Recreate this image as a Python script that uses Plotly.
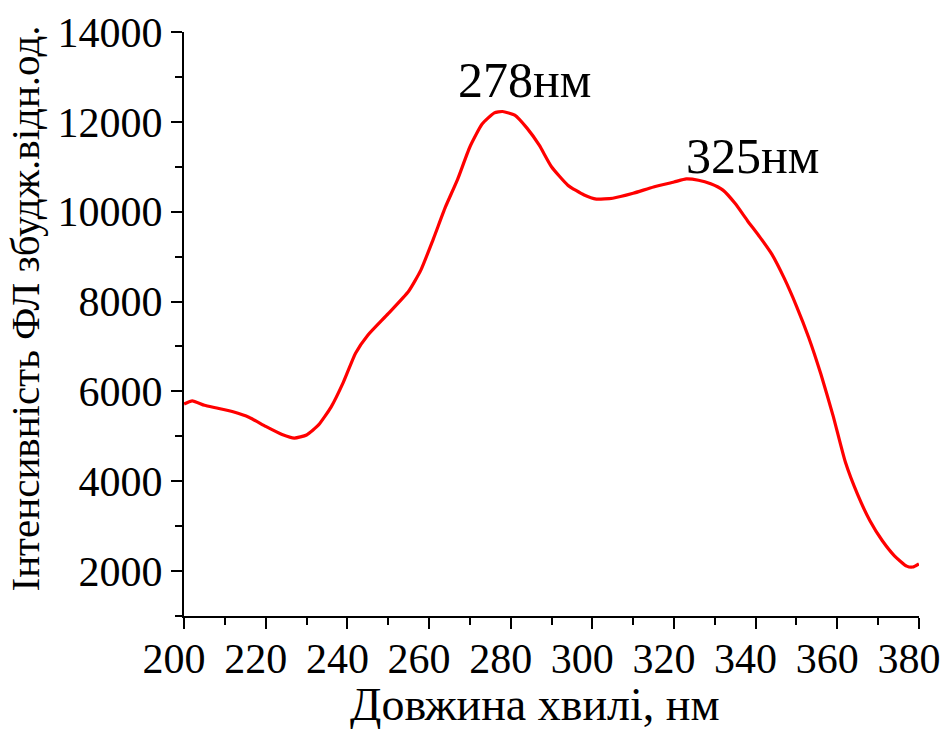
import plotly.graph_objects as go

wavelength = [200, 202, 205, 208, 212, 216, 220, 224, 227, 230, 233, 236, 239, 242, 245, 250,
              255, 258, 261, 264, 267, 270, 273, 276, 278, 281, 284, 287, 290, 294, 298, 301,
              305, 310, 315, 320, 323, 326, 329, 332, 335, 338, 341, 344, 347, 350, 353, 356,
              359, 362, 365, 368, 371, 374, 377, 378.5, 380]
intensity = [5720, 5790, 5690, 5630, 5545, 5420, 5220, 5040, 4960, 5030, 5260, 5650, 6200, 6850,
             7250, 7730, 8230, 8700, 9380, 10100, 10720, 11440, 11950, 12200, 12230, 12150,
             11860, 11480, 11000, 10590, 10370, 10280, 10300, 10410, 10550, 10660, 10730, 10700,
             10620, 10480, 10180, 9800, 9440, 9050, 8520, 7900, 7200, 6380, 5450, 4420, 3700,
             3120, 2680, 2340, 2110, 2090, 2160]

peak_labels = ["278нм", "325нм"]
peak_x = [283.4, 339.3]
peak_y = [12940, 11240]

x_ticks = [200, 220, 240, 260, 280, 300, 320, 340, 360, 380]
y_ticks = [2000, 4000, 6000, 8000, 10000, 12000, 14000]

x_title = "Довжина хвилі, нм"
y_title = "Інтенсивність ФЛ збудж.відн.од."

FONT = "Liberation Serif, Times New Roman, serif"

fig = go.Figure()
fig.add_trace(go.Scatter(x=wavelength, y=intensity, mode="lines",
                         line=dict(color="#ff0000", width=3.2, shape="spline", smoothing=0.5),
                         showlegend=False, hoverinfo="skip"))

for t, xx, yy in zip(peak_labels, peak_x, peak_y):
    fig.add_annotation(x=xx, y=yy, xref="x", yref="y", text=t, showarrow=False,
                       font=dict(family=FONT, size=50, color="black"),
                       xanchor="center", yanchor="middle")

fig.add_annotation(x=0.477, y=-0.151, xref="paper", yref="paper", text=x_title,
                   showarrow=False, font=dict(family=FONT, size=46, color="black"),
                   xanchor="center", yanchor="middle")
fig.add_annotation(x=-0.216, y=0.527, xref="paper", yref="paper", text=y_title,
                   textangle=-90, showarrow=False,
                   font=dict(family=FONT, size=41, color="black"),
                   xanchor="center", yanchor="middle")

axis_common = dict(showgrid=False, zeroline=False, showline=True, linecolor="black",
                   linewidth=2, ticks="outside", ticklen=11, tickwidth=2, tickcolor="black",
                   tickfont=dict(family=FONT, size=42, color="black"), mirror=False,
                   ticklabeloverflow="allow", automargin=False)

fig.update_xaxes(range=[199.98, 380.02], tickvals=x_ticks, ticktext=[str(v) for v in x_ticks],
                 minor=dict(ticks="outside", ticklen=7, tickwidth=2, tickcolor="black",
                            dtick=10, tick0=200),
                 ticklabelstandoff=-6, ticklabelshift=-10,
                 **axis_common)
fig.update_yaxes(range=[1000, 14000.05], tickvals=y_ticks, ticktext=[str(v) for v in y_ticks],
                 minor=dict(ticks="outside", ticklen=7, tickwidth=2, tickcolor="black",
                            dtick=1000, tick0=1000),
                 **axis_common)

fig.update_layout(width=947, height=729, margin=dict(l=184, r=28, t=32, b=113, autoexpand=False),
                  paper_bgcolor="white", plot_bgcolor="white",
                  font=dict(family=FONT, color="black"))

fig.write_html("out.html")
